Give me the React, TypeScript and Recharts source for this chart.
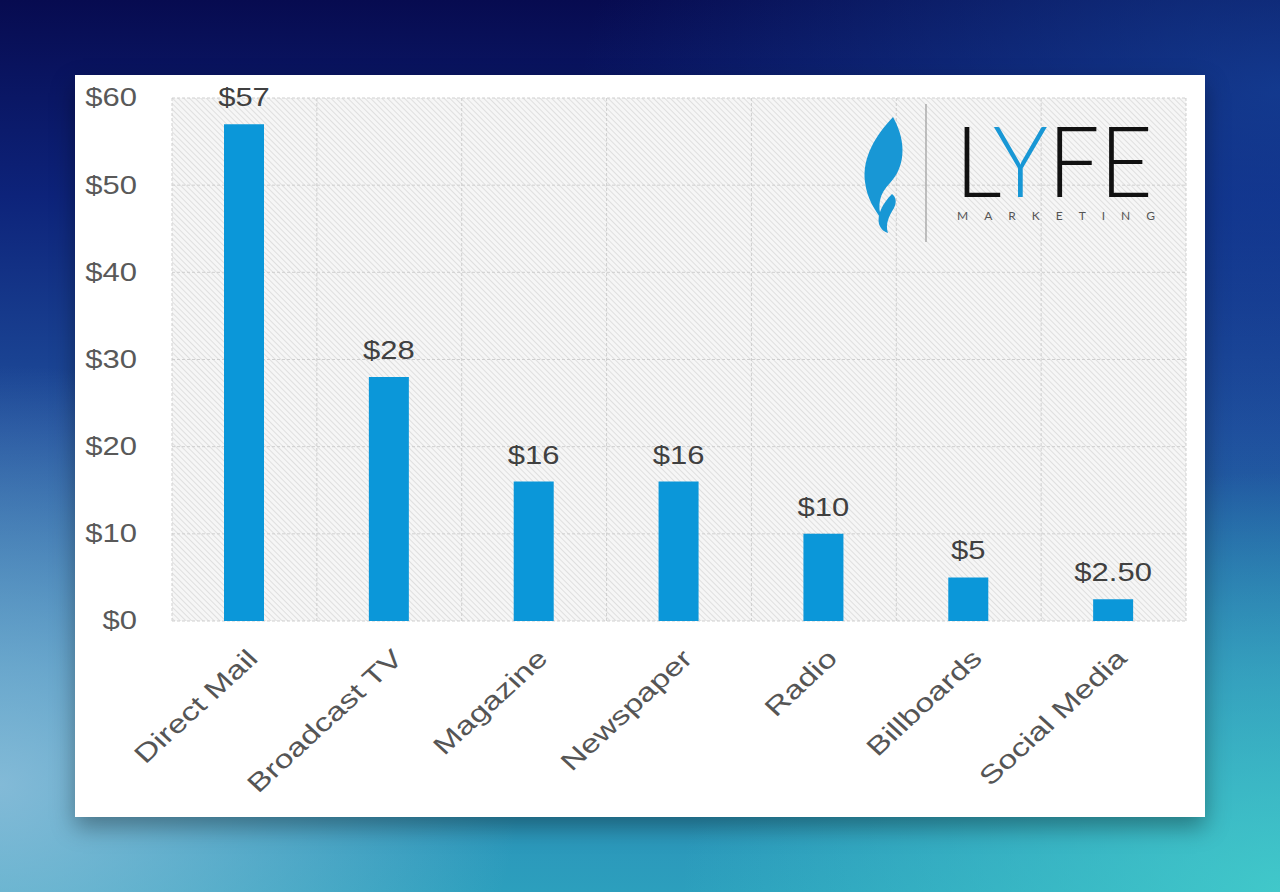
import { Bar, BarChart, CartesianGrid, LabelList, XAxis, YAxis } from "recharts";

const categories = ["Direct Mail", "Broadcast TV", "Magazine", "Newspaper", "Radio", "Billboards", "Social Media"];
const costs = [57, 28, 16, 16, 10, 5, 2.5];
const yTicks = [0, 10, 20, 30, 40, 50, 60];

const data = categories.map((name, i) => ({ name, cost: costs[i] }));

const FONT = "'Liberation Sans', Arial, sans-serif";
const STRETCH = 1.24;

const money = (v: number) => (Number.isInteger(v) ? `$${v}` : `$${v.toFixed(2)}`);

function YTick({ x, y, payload }: any) {
  return (
    <text
      transform={`translate(${x},${y}) scale(${STRETCH},1)`}
      textAnchor="end"
      dominantBaseline="central"
      fontFamily={FONT}
      fontSize={25}
      fill="#595959"
    >
      {money(payload.value)}
    </text>
  );
}

// rotated label, then the whole picture is a little wider than tall
function XTick({ x, y, payload }: any) {
  return (
    <text
      transform={`translate(${x + 15},${y + 39}) scale(1.09,1) rotate(-45) scale(1.255,1)`}
      textAnchor="end"
      fontFamily={FONT}
      fontSize={25}
      fill="#555"
    >
      {payload.value}
    </text>
  );
}

function ValueLabel({ x, y, width, value }: any) {
  return (
    <text
      transform={`translate(${x + width / 2},${y - 18}) scale(${STRETCH},1)`}
      textAnchor="middle"
      fontFamily={FONT}
      fontSize={25}
      fill="#404040"
    >
      {money(value)}
    </text>
  );
}

function Logo() {
  return (
    <svg width={420} height={150} style={{ position: "absolute", left: 705, top: 27 }}>
      {/* flame */}
      <path
        d="M 113 15 C 96 33, 82 55, 85 80 C 87 97, 95 108, 102 118 C 97 104, 99 92, 110 81 C 124 66, 128 42, 113 15 Z"
        fill="#1897d5"
      />
      <path
        d="M 112 92 C 102 102, 97 113, 99 122 C 101 128, 105 130, 108 131 C 105 122, 109 114, 114 106 C 117 100, 116 95, 112 92 Z"
        fill="#1897d5"
      />
      <line x1={146} y1={2} x2={146} y2={140} stroke="#9a9a9a" strokeWidth={1.2} />
      <text
        x={175}
        y={95}
        fontFamily="Lato, 'Open Sans', sans-serif"
        fontWeight={300}
        fontSize={98}
        textLength={198}
        lengthAdjust="spacingAndGlyphs"
        fill="#111"
      >
        L<tspan fill="#1897d5">Y</tspan>FE
      </text>
      <text
        x={177}
        y={118}
        fontFamily="Lato, 'Open Sans', sans-serif"
        fontSize={12}
        textLength={198}
        lengthAdjust="spacing"
        fill="#555"
      >
        MARKETING
      </text>
    </svg>
  );
}

export default function App() {
  return (
    <div
      style={{
        position: "absolute",
        left: 0,
        top: 0,
        width: 1280,
        height: 892,
        overflow: "hidden",
        background:
          "radial-gradient(ellipse 520px 420px at 0% 88%, rgba(160,200,225,0.75), rgba(160,200,225,0) 100%)," +
          "radial-gradient(ellipse 600px 420px at 100% 100%, rgba(70,210,205,0.8), rgba(70,210,205,0) 100%)," +
          "radial-gradient(ellipse 700px 400px at 100% 10%, rgba(25,80,170,0.6), rgba(25,80,170,0) 100%)," +
          "linear-gradient(to bottom, #070b50 0%, #0d237a 22%, #1f4f9c 48%, #2a80b4 75%, #2c9fbd 100%)",
      }}
    >
      <svg width={0} height={0} style={{ position: "absolute" }}>
        <defs>
          <pattern id="hatch" width={4} height={4} patternUnits="userSpaceOnUse" patternTransform="rotate(-45)">
            <rect width={4} height={4} fill="#f6f6f6" />
            <line x1={0} y1={0} x2={0} y2={4} stroke="#d3d3d3" strokeWidth={1.3} />
          </pattern>
        </defs>
      </svg>
      <div
        style={{
          position: "absolute",
          left: 75,
          top: 75,
          width: 1130,
          height: 742,
          background: "#fff",
          boxShadow: "0 10px 22px rgba(0,0,0,0.35)",
        }}
      >
        <BarChart width={1130} height={742} data={data} margin={{ top: 23, right: 19, left: 0, bottom: 0 }}>
          <CartesianGrid
            fill="url(#hatch)"
            fillOpacity={1}
            stroke="#cfcfcf"
            strokeDasharray="3 2"
            verticalCoordinatesGenerator={({ offset }: any) =>
              Array.from(
                { length: categories.length + 1 },
                (_, i) => offset.left + (i * offset.width) / categories.length
              )
            }
          />
          <XAxis
            dataKey="name"
            axisLine={false}
            tickLine={false}
            tickSize={0}
            tickMargin={0}
            height={196}
            interval={0}
            tick={<XTick />}
          />
          <YAxis
            domain={[0, 60]}
            ticks={yTicks}
            axisLine={false}
            tickLine={false}
            tickSize={0}
            tickMargin={35}
            width={97}
            tick={<YTick />}
          />
          <Bar dataKey="cost" fill="#0b97d9" barSize={40} isAnimationActive={false}>
            <LabelList dataKey="cost" content={<ValueLabel />} />
          </Bar>
        </BarChart>
        <Logo />
      </div>
    </div>
  );
}
